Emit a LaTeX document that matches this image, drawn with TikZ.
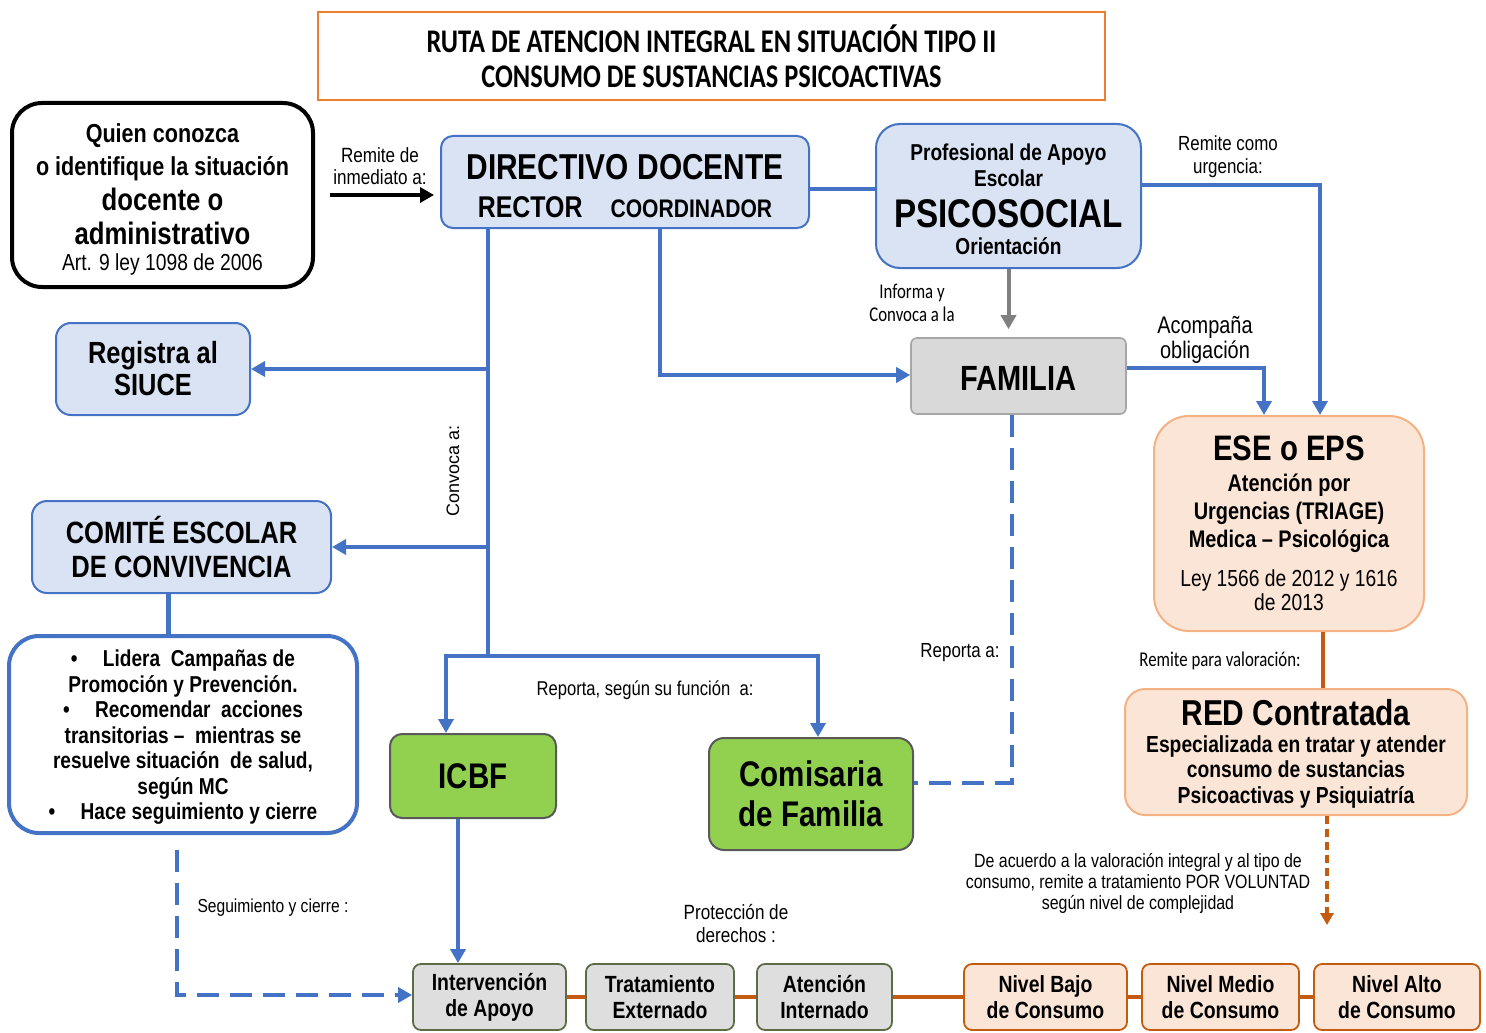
\documentclass[tikz,border=0pt]{standalone}
\usepackage{fontspec}
\setmainfont[FakeStretch=0.83]{Liberation Sans}
\newfontfamily\calibri[FakeStretch=0.8]{Carlito}
\newfontfamily\arialw{Liberation Sans}
\usetikzlibrary{arrows.meta}
\definecolor{boxblue}{HTML}{DAE3F3}
\definecolor{lineblue}{HTML}{4472C4}
\definecolor{peach}{HTML}{FBE5D6}
\definecolor{peachline}{HTML}{F4B183}
\definecolor{rust}{HTML}{C55A11}
\definecolor{titleorange}{HTML}{ED7D31}
\definecolor{leaf}{HTML}{92D050}
\definecolor{famgray}{HTML}{D9D9D9}
\definecolor{grisclaro}{HTML}{DEDEDE}
\definecolor{olivegray}{HTML}{5D6B47}
\newcommand{\fsz}[2]{\fontsize{#1}{#2}\selectfont}
\lineskiplimit=-50pt

\begin{document}
\begin{tikzpicture}[x=0.5pt,y=-0.5pt,>={Triangle[width=7.5pt,length=7pt]},
    box/.style={align=center,inner sep=0pt,font=\bfseries},
    bluebox/.style={box,draw=lineblue,fill=boxblue,line width=1pt},
    peachbox/.style={box,draw=peachline,fill=peach,line width=1pt},
    greenbox/.style={box,draw=black!65,fill=leaf,line width=1pt,rounded corners=6pt},
    grisbox/.style={box,draw=olivegray,fill=grisclaro,line width=0.9pt,rounded corners=4pt,minimum height=33pt,font=\fsz{11.7}{13}\bfseries},
    nivelbox/.style={box,draw=rust,fill=peach,line width=0.9pt,rounded corners=4pt,minimum height=33pt,font=\fsz{11.7}{13}\bfseries},
    conn/.style={lineblue,line width=2.2pt},
    dashconn/.style={conn,dash pattern=on 11pt off 5.5pt},
    lbl/.style={align=center,inner sep=0pt,font=\fsz{10}{11.5}},
]
    \useasboundingbox (0,0) rectangle (1486,1032);
    % boxes
    \node[draw=titleorange,line width=0.8pt,minimum width=393.5pt,minimum height=44pt,align=center,font=\calibri\bfseries\fsz{16.5}{17.5}] (titulo) at (711.5,56) {RUTA DE ATENCION INTEGRAL EN SITUACIÓN TIPO II\\CONSUMO DE SUSTANCIAS PSICOACTIVAS};
    \node[box,draw=black,line width=2pt,rounded corners=15pt,minimum width=150.5pt,minimum height=92pt,font=\fsz{13}{13}\bfseries] (quien) at (162.5,195) {\rule{0pt}{13.7pt}\fsz{13}{13}Quien conozca\\[3.5pt]\fsz{13}{13}o identifique la situación\\[4.4pt]\fsz{15.5}{13}docente o\\[4pt]\fsz{15.5}{13}administrativo\\\mdseries\fsz{11.6}{13}Art. 9 ley 1098 de 2006};
    \node[bluebox,rounded corners=6pt,minimum width=184pt,minimum height=46pt,font=\fsz{18}{19}\bfseries] (directivo) at (625,182) {\rule{0pt}{17pt}DIRECTIVO DOCENTE\\\fsz{15}{19}RECTOR\hspace{14pt}\fsz{12.7}{19}COORDINADOR};
    \node[bluebox,rounded corners=12pt,minimum width=132.5pt,minimum height=72pt,font=\fsz{11.5}{13}\bfseries] (psicosocial) at (1008.5,196) {\rule{0pt}{11.5pt}Profesional de Apoyo\\Escolar\\[7.6pt]\fsz{20}{13}PSICOSOCIAL\\[0.4pt]\fsz{11.5}{13}Orientación};
    \node[draw=black!35,fill=famgray,line width=0.8pt,rounded corners=3pt,minimum width=107.5pt,minimum height=38pt,font=\fsz{17.5}{19}\bfseries] (familia) at (1018.5,376) {\rule{0pt}{14.5pt}FAMILIA};
    \node[bluebox,rounded corners=7.5pt,minimum width=97pt,minimum height=46pt,font=\fsz{15.3}{16}\bfseries] (siuce) at (153,369) {Registra al\\SIUCE};
    \node[bluebox,rounded corners=7.5pt,minimum width=149.5pt,minimum height=46pt,font=\fsz{15.4}{17}\bfseries] (comite) at (181.5,547) {COMITÉ ESCOLAR\\DE CONVIVENCIA};
    \node[box,draw=lineblue,fill=white,line width=2pt,rounded corners=15pt,minimum width=174pt,minimum height=98.5pt,font=\fsz{11.5}{12.75}\bfseries] (acciones) at (183,734.5) {\rule{0pt}{11pt}•\hspace{1.1em}Lidera\ \ Campañas de\\Promoción y Prevención.\\•\hspace{1.1em}Recomendar\ \ acciones\\transitorias –\ \ mientras se\\resuelve situación\ \ de salud,\\según MC\\•\hspace{1.1em}Hace seguimiento y cierre};
    \node[greenbox,minimum width=83pt,minimum height=42pt,font=\fsz{17.8}{20}\bfseries] (icbf) at (473,776) {ICBF};
    \node[greenbox,rounded corners=7.5pt,minimum width=102pt,minimum height=56pt,font=\fsz{17.8}{20}\bfseries] (comisaria) at (811,794) {Comisaria\\de Familia};
    \node[peachbox,rounded corners=17.5pt,minimum width=135pt,minimum height=107.5pt,font=\fsz{12}{12}\bfseries] (ese) at (1289,523.5) {\fsz{17.7}{12}ESE o EPS\\[3.45pt]\fsz{12}{12}Atención por\\[2pt]\fsz{12}{12}Urgencias (TRIAGE)\\[2pt]\fsz{12}{12}Medica – Psicológica\\[7.35pt]\mdseries\fsz{11.6}{12}Ley 1566 de 2012 y 1616\\\mdseries\fsz{11.6}{12}de 2013};
    \node[peachbox,rounded corners=10pt,minimum width=171pt,minimum height=63pt,font=\fsz{11.6}{12.5}\bfseries] (red) at (1296,752) {\rule{0pt}{15pt}\fsz{18}{12.5}RED Contratada\\[1.2pt]\fsz{11.6}{12.5}Especializada en tratar y atender\\\fsz{11.6}{12.5}consumo de sustancias\\[0.5pt]\fsz{11.6}{12.5}Psicoactivas y Psiquiatría};
    \node[grisbox,minimum width=76.5pt] (intervencion) at (489.5,997) {Intervención\\de Apoyo};
    \node[grisbox,minimum width=74pt] (externado) at (660,997) {Tratamiento\\Externado};
    \node[grisbox,minimum width=67.5pt] (internado) at (824.5,997) {Atención\\Internado};
    \node[nivelbox,minimum width=81.5pt] (bajo) at (1045.5,997) {Nivel Bajo\\de Consumo};
    \node[nivelbox,minimum width=78.5pt] (medio) at (1220.5,997) {Nivel Medio\\de Consumo};
    \node[nivelbox,minimum width=83pt] (alto) at (1397,997) {Nivel Alto\\de Consumo};
    % labels
    \node[lbl,font=\fsz{10.3}{11}] (lremite) at (380,166) {Remite de\\inmediato a:};
    \node[lbl,font=\fsz{10.2}{11.5}] (lurgencia) at (1228,157) {Remite como\\urgencia:};
    \node[lbl,font=\calibri\fsz{10.5}{11.5}] (linforma) at (912,303) {Informa y\\Convoca a la};
    \node[lbl,font=\fsz{12}{12.5}] (lacompana) at (1205,340) {Acompaña\\obligación};
    \node[lbl,font=\arialw\fsz{9}{10},rotate=90] (lconvoca) at (453,471) {Convoca a:};
    \node[lbl] (lreporta) at (645,690) {Reporta, según su función\ \ a:};
    \node[lbl,font=\fsz{10.2}{11}] (lreportaa) at (960,653) {Reporta a:};
    \node[lbl,font=\calibri\fsz{10.5}{11}] (lvaloracion) at (1220,661) {Remite para valoración:};
    \node[lbl,font=\fsz{9.6}{10.5}] (lacuerdo) at (1138,883) {De acuerdo a la valoración integral y al tipo de\\consumo, remite a tratamiento POR VOLUNTAD\\según nivel de complejidad};
    \node[lbl,font=\fsz{9.4}{11}] (lseguimiento) at (273,908) {Seguimiento y cierre :};
    \node[lbl,font=\fsz{10.3}{11.5}] (lproteccion) at (736,924) {Protección de\\derechos :};
    % junctions
    \coordinate (jsiuce) at (488,369);
    \coordinate (jcomite) at (488,547);
    \coordinate (jreporta) at (488,656);
    \coordinate (jicbf) at (446,656);
    \coordinate (jcomisaria) at (818,656);
    \coordinate (jfamilia) at (660,375);
    \coordinate (jreportaa) at (1012,783);
    \coordinate (jseguimiento) at (177,995);
    \coordinate (nivelflecha) at (1327,925);
    % connectors
    \draw[->,line width=1.6pt,shorten <=7.5pt,shorten >=3pt] (quien.east) -- (quien.east -| directivo.west);
    \draw[conn] ([yshift=-3.5pt]directivo.east) -- ([yshift=-3.5pt]directivo.east -| psicosocial.west);
    \draw[->,black!50,line width=2pt,shorten >=4pt] (psicosocial.south) -- (psicosocial.south |- familia.north);
    \draw[conn,->] ([yshift=5.5pt]psicosocial.east) -| ([xshift=15.5pt]ese.north);
    \draw[conn,->] ([yshift=4pt]familia.east) -| ([xshift=-12.5pt]ese.north);
    \draw[rust,line width=2pt] ([xshift=17pt]ese.south) -- ([xshift=17pt]ese.south |- red.north);
    \draw[rust,line width=2pt,dash pattern=on 4pt off 2.5pt,-{Triangle[width=6.5pt,length=6pt]}] (red.south -| nivelflecha) -- (nivelflecha);
    \draw[conn] (directivo.south -| jsiuce) -- ([yshift=-1.1pt]jreporta);
    \draw[conn,->] (jsiuce) -- (siuce.east);
    \draw[conn,->] (jcomite) -- (comite.east);
    \draw[conn,->] (jreporta) -- (jicbf) -- (icbf.north -| jicbf);
    \draw[conn,->] (jreporta) -- (jcomisaria) -- (comisaria.north -| jcomisaria);
    \draw[conn,->] (directivo.south -| jfamilia) -- (jfamilia) -- (jfamilia -| familia.west);
    \draw[dashconn] (familia.south -| jreportaa) -- (jreportaa) -- (jreportaa -| comisaria.east);
    \draw[conn,->] ([xshift=-7.5pt]icbf.south) -- ([xshift=-7.5pt]icbf.south |- intervencion.north);
    \draw[conn] ([xshift=-6.5pt]comite.south) -- ([xshift=-6.5pt]comite.south |- acciones.north);
    \draw[dashconn,->,shorten <=7.5pt] (acciones.south -| jseguimiento) -- (jseguimiento) -- (jseguimiento -| intervencion.west);
    \foreach \a/\b in {intervencion/externado,externado/internado,internado/bajo,bajo/medio,medio/alto}
        \draw[rust,line width=2.2pt] (\a.east) -- (\b.west);
\end{tikzpicture}
\end{document}
